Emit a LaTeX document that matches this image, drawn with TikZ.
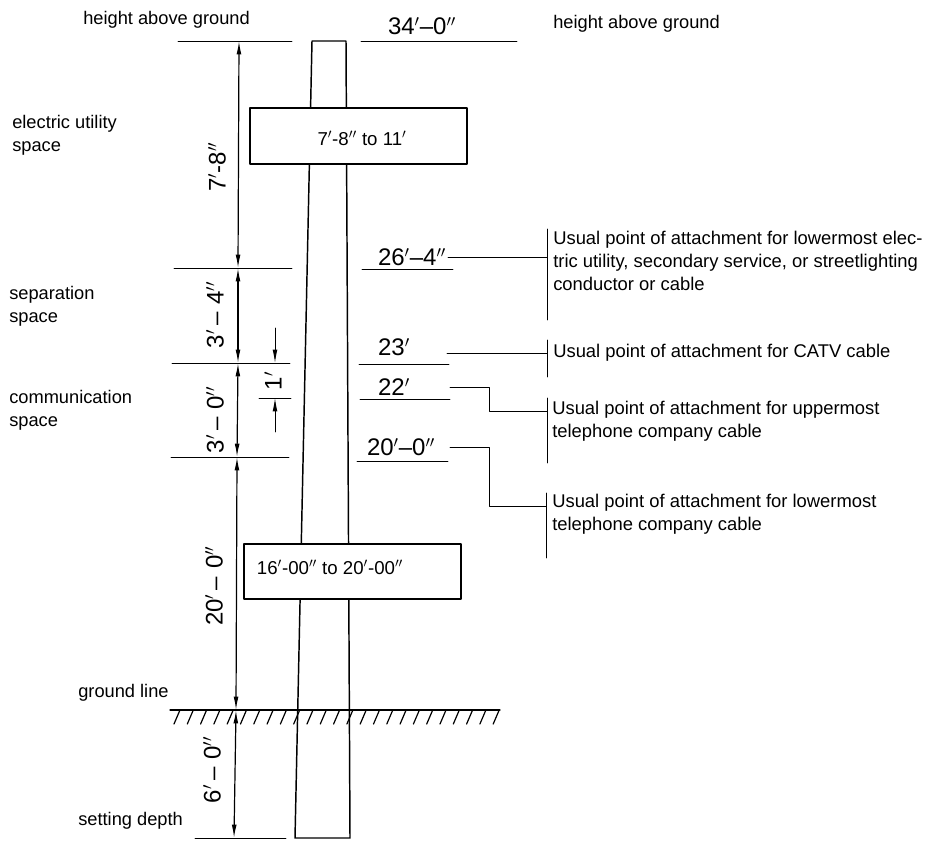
\documentclass[tikz,border=0pt]{standalone}
\usepackage{fontspec}
\setmainfont{Liberation Sans}
\usetikzlibrary{arrows.meta}
\tikzset{
  dimline/.style={line width=0.9pt,<->},
  tickline/.style={line width=0.7pt},
  leaderline/.style={line width=0.7pt},
  boxnode/.style={draw,fill=white,line width=1.5pt,anchor=north west,inner sep=0pt},
  notelabel/.style={align=left,anchor=west,inner sep=0pt,font=\fontsize{13.8}{17}\selectfont},
  sidelabel/.style={align=left,anchor=west,inner sep=0pt,font=\fontsize{13.7}{17}\selectfont},
  dimlabel/.style={inner sep=0pt,font=\fontsize{18}{20}\selectfont},
  vertlabel/.style={dimlabel,rotate=90},
  boxlabel/.style={inner sep=0pt,font=\fontsize{14}{16}\selectfont},
}
\begin{document}
\begin{tikzpicture}[line cap=round,line join=round,>={Latex[length=10pt,width=3.6pt]},x=0.75pt,y=-0.75pt]
\useasboundingbox (0,0) rectangle (927,842);
% pole
\draw[line width=1.1pt] (312,41) -- (295,838) -- (350,838) -- (346,41) -- cycle;
% height marks, left side
\foreach \name/\y/\xa/\xb in {top/41/178/292,upper/268/174/292,middle/363/172/290,lower/457/171/289,bottom/838/195/286}
  \draw[tickline] (\xa,\y) -- (\xb,\y);
% height marks, right side
\draw[tickline] (361,41) -- (517,41);
\draw[tickline] (362,269) -- (453,269);
\draw[tickline] (359,364) -- (449,364);
\draw[tickline] (360,399) -- (450,399);
\draw[tickline] (357,461) -- (448,461);
% ground
\draw[line width=0.9pt] (170,710) -- (500,710);
\foreach \k in {0,...,24}
  \draw[line width=0.9pt] ({180+13.3*\k},710) -- ({174+13.3*\k},724);
% dimensions
\coordinate (dimtop) at (239,41);
\coordinate (dimupper) at (238,268);
\coordinate (dimmiddle) at (238,363);
\coordinate (dimlower) at (237,457);
\coordinate (dimground) at (236,710);
\coordinate (dimbottom) at (234,838);
\draw[dimline] (dimtop) -- (dimupper);
\draw[dimline] (dimupper) -- (dimmiddle);
\draw[dimline] (dimmiddle) -- (dimlower);
\draw[dimline] (dimlower) -- (dimground);
\draw[dimline] (dimground) -- (dimbottom);
\node[vertlabel] (dimA) at (217,167) {7$'$-8$''$};
\node[vertlabel] (dimB) at (215,315) {3$'$\,–\,\,4$''$};
\node[vertlabel] (dimC) at (215,420) {3$'$\,–\,\,0$''$};
\node[vertlabel] (dimD) at (214,586) {20$'$\,–\,\,0$''$};
\node[vertlabel] (dimE) at (212,770) {6$'$\,–\,\,0$''$};
% one foot
\coordinate (foota) at (275,328);
\coordinate (footb) at (275,363);
\coordinate (footc) at (275,432);
\coordinate (footd) at (275,398);
\draw[line width=0.7pt,->] (foota) -- (footb);
\draw[line width=0.7pt,->] (footc) -- (footd);
\draw[tickline] (259,398) -- (291,398);
\node[vertlabel] (dimfoot) at (273,381) {1$'$};
% cross arms
\node[boxnode,minimum width=162.75pt,minimum height=42pt] (armtop) at (249,107) {};
\node[boxlabel] (armtoptext) at (362,138) {7$'$-8$''$ to 11$'$};
\node[boxnode,minimum width=162.75pt,minimum height=41.25pt] (armlow) at (243,543) {};
\node[boxlabel] (armlowtext) at (330,567) {16$'$-00$''$ to 20$'$-00$''$};
% heights
\node[dimlabel] (htop) at (422,26) {34$'$–0$''$};
\node[dimlabel] (hA) at (412,257) {26$'$–4$''$};
\node[dimlabel] (hB) at (394,347) {23$'$};
\node[dimlabel] (hC) at (394,387) {22$'$};
\node[dimlabel] (hD) at (401,447) {20$'$–0$''$};
% notes
\coordinate (barAa) at (547,229);
\coordinate (barAb) at (547,320);
\coordinate (barBa) at (547,340);
\coordinate (barBb) at (547,377);
\coordinate (barCa) at (547,398);
\coordinate (barCb) at (547,463);
\coordinate (barDa) at (546,493);
\coordinate (barDb) at (546,558);
\node[notelabel] (noteA) at (553,261) {Usual point of attachment for lowermost elec-\\tric utility, secondary service, or streetlighting\\conductor or cable};
\node[notelabel] (noteB) at (553,353) {Usual point of attachment for CATV cable};
\node[notelabel] (noteC) at (552,421) {Usual point of attachment for uppermost\\telephone company cable};
\node[notelabel] (noteD) at (552,514) {Usual point of attachment for lowermost\\telephone company cable};
\draw[leaderline] (barAa) -- (barAb);
\draw[leaderline] (barBa) -- (barBb);
\draw[leaderline] (barCa) -- (barCb);
\draw[leaderline] (barDa) -- (barDb);
\draw[leaderline] (448,257) -- (barAa |- 0,257);
\draw[leaderline] (447,353) -- (barBa |- 0,353);
\draw[leaderline] (450,387) -- (489,387) -- (489,411) -- (barCa |- 0,411);
\draw[leaderline] (450,447) -- (489,447) -- (489,506) -- (barDa |- 0,506);
% side labels
\node[sidelabel] (topleft) at (83,20) {height above ground};
\node[sidelabel] (topright) at (553,24) {height above ground};
\node[sidelabel] (electric) at (12,135) {electric utility\\space};
\node[sidelabel] (separation) at (9,306) {separation\\space};
\node[sidelabel] (communication) at (9,410) {communication\\space};
\node[sidelabel] (groundline) at (78,693) {ground line};
\node[sidelabel] (setting) at (78,821) {setting depth};
\end{tikzpicture}
\end{document}
